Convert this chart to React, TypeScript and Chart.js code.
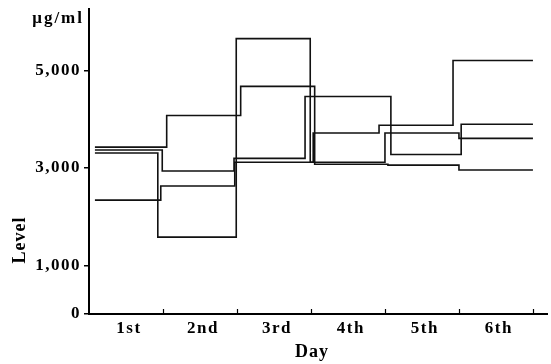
import React, { useEffect, useRef } from 'react';
import { Chart, registerables } from 'chart.js';

Chart.register(...registerables);

// ---- data ----
const dayLabels = ['1st', '2nd', '3rd', '4th', '5th', '6th'];
const yTickValues = [0, 1000, 3000, 5000];
const startDay = 0.08;
const endDay = 6.0;

const levelsA = [3430, 4080, 4680, 3080, 3060, 2960];
const switchA = [1.05, 2.05, 3.05, 4.04, 5.0];
const levelsB = [3370, 2940, 3200, 4470, 3280, 3900];
const switchB = [0.99, 1.96, 2.92, 4.08, 5.03];
const levelsC = [3310, 1580, 5660, 3120, 3720, 3610];
const switchC = [0.93, 1.99, 2.99, 4.0, 5.0];
const levelsD = [2340, 2630, 3120, 3720, 3880, 5210];
const switchD = [0.97, 1.97, 3.03, 3.92, 4.92];

const FONT = '"Liberation Serif", "DejaVu Serif", serif';

function stepPoints(levels: number[], switches: number[]) {
  const pts = [{ x: startDay, y: levels[0] }];
  switches.forEach((s, i) => pts.push({ x: s, y: levels[i + 1] }));
  pts.push({ x: endDay, y: levels[levels.length - 1] });
  return pts;
}

const decor = {
  id: 'decor',
  beforeDraw(chart: any) {
    chart.ctx.letterSpacing = '1.5px';
  },
  afterDraw(chart: any) {
    const { ctx, scales } = chart;
    const x = scales.x;
    const y = scales.y;
    ctx.save();
    ctx.strokeStyle = '#000';
    ctx.lineWidth = 1.2;
    for (let d = 1; d <= dayLabels.length; d++) {
      const px = Math.round(x.getPixelForValue(d)) + 0.5;
      ctx.beginPath();
      ctx.moveTo(px, y.bottom);
      ctx.lineTo(px, y.bottom - 5);
      ctx.stroke();
    }
    ctx.fillStyle = '#000';
    ctx.font = 'bold 17px ' + FONT;
    ctx.letterSpacing = '2px';
    ctx.textAlign = 'right';
    ctx.textBaseline = 'alphabetic';
    ctx.fillText('μg/ml', y.right - 5, 23);

    ctx.letterSpacing = '1px';
    ctx.font = 'bold 18px ' + FONT;
    ctx.textAlign = 'center';
    ctx.textBaseline = 'middle';
    ctx.fillText('Day', 312, 352);

    ctx.translate(20, 240);
    ctx.rotate(-Math.PI / 2);
    ctx.fillText('Level', 0, 0);
    ctx.restore();
    ctx.letterSpacing = '0px';
  },
};

export default function App() {
  const ref = useRef<HTMLCanvasElement | null>(null);

  useEffect(() => {
    if (!ref.current) return;
    const series = [
      stepPoints(levelsA, switchA),
      stepPoints(levelsB, switchB),
      stepPoints(levelsC, switchC),
      stepPoints(levelsD, switchD),
    ];
    const chart = new Chart(ref.current, {
      type: 'line',
      data: {
        datasets: series.map((pts) => ({
          data: pts,
          borderColor: '#111',
          borderWidth: 1.6,
          pointRadius: 0,
          stepped: 'before' as const,
          fill: false,
        })),
      },
      options: {
        animation: false,
        responsive: true,
        maintainAspectRatio: false,
        layout: { padding: { top: 9, right: 4, left: 0, bottom: 0 } },
        plugins: {
          legend: { display: false },
          tooltip: { enabled: false },
        },
        scales: {
          x: {
            type: 'linear',
            min: 0,
            max: 6.19,
            afterBuildTicks: (scale: any) => {
              scale.ticks = dayLabels.map((_, i) => ({ value: i + 0.54 }));
            },
            afterFit: (scale: any) => {
              scale.height = 50;
              scale.paddingLeft = 0;
              scale.paddingRight = 0;
            },
            ticks: {
              autoSkip: false,
              maxRotation: 0,
              padding: 4,
              color: '#000',
              font: { family: FONT, size: 17, weight: 'bold' },
              callback: (_v: any, i: number) => dayLabels[i],
            },
            grid: { display: false, drawTicks: false },
            border: { display: true, color: '#000', width: 2 },
          },
          y: {
            type: 'linear',
            min: 0,
            max: 6270,
            afterBuildTicks: (scale: any) => {
              scale.ticks = yTickValues.map((v) => ({ value: v }));
            },
            afterFit: (scale: any) => {
              scale.width = 89;
              scale.paddingTop = 0;
              scale.paddingBottom = 0;
            },
            ticks: {
              padding: 3,
              color: '#000',
              font: { family: FONT, size: 17, weight: 'bold' },
              callback: (v: any) => Number(v).toLocaleString('en-US'),
            },
            grid: {
              display: true,
              drawOnChartArea: false,
              drawTicks: true,
              tickLength: 5,
              color: '#000',
              lineWidth: 1.5,
            },
            border: { display: true, color: '#000', width: 2 },
          },
        },
      },
      plugins: [decor],
    });
    return () => chart.destroy();
  }, []);

  return (
    <div style={{ position: 'fixed', left: 0, top: 0, width: 551, height: 364, background: '#fff' }}>
      <canvas ref={ref} />
    </div>
  );
}
